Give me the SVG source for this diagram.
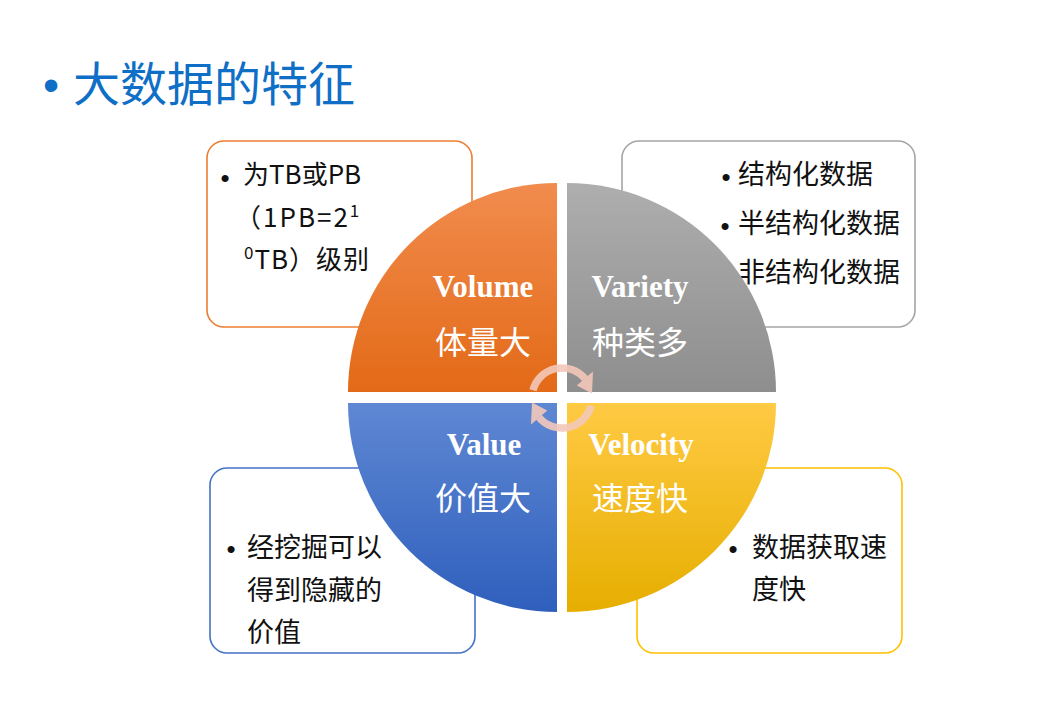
<svg xmlns="http://www.w3.org/2000/svg" width="1046" height="707" viewBox="0 0 1046 707">
<defs>
<linearGradient id="gOrange" x1="0" y1="0" x2="0" y2="1"><stop offset="0" stop-color="#F18C4E"/><stop offset="1" stop-color="#E36A17"/></linearGradient>
<linearGradient id="gGray" x1="0" y1="0" x2="0" y2="1"><stop offset="0" stop-color="#AEAEAE"/><stop offset="1" stop-color="#8E8E8E"/></linearGradient>
<linearGradient id="gBlue" x1="0" y1="0" x2="0" y2="1"><stop offset="0" stop-color="#5F88D3"/><stop offset="1" stop-color="#2F5FBD"/></linearGradient>
<linearGradient id="gYellow" x1="0" y1="0" x2="0" y2="1"><stop offset="0" stop-color="#FFCA44"/><stop offset="1" stop-color="#E6AE00"/></linearGradient>
<style>
.box{fill:#FFFFFF;stroke-width:1.6}
.t{font-family:"Noto Sans CJK SC","Noto Sans",sans-serif;font-size:27px;fill:#111111}
.t26{font-size:26px}
.b{font-family:"Liberation Sans",Arial,sans-serif;font-size:26px;fill:#111111;text-anchor:middle}
.en{font-family:"Liberation Serif","Times New Roman",serif;font-size:31px;font-weight:bold;fill:#FFFFFF;text-anchor:middle}
.cn{font-family:"Noto Sans CJK SC","Noto Sans",sans-serif;font-size:32px;fill:#FFFFFF;text-anchor:middle}
.arc{fill:none;stroke:#F3C8B9;stroke-width:7.5;opacity:0.9}
.head{fill:#F3C8B9;opacity:0.9}
</style>
</defs>
<rect width="1046" height="707" fill="#FFFFFF"/>

<g id="title">
<text x="51" y="101" style="font-family:'Liberation Sans',sans-serif;font-size:46px;fill:#0F6FC6;text-anchor:middle">•</text>
<text x="73" y="101" style="font-family:'Noto Sans CJK SC','Noto Sans',sans-serif;font-size:47px;fill:#0F6FC6">大数据的特征</text>
</g>

<g id="box-volume">
<rect class="box" x="207" y="141" width="265" height="186" rx="17" stroke="#ED7D31"/>
<text class="b" x="225" y="187">•</text>
<text class="t t26" x="243" y="184">为TB或PB</text>
<text class="t t26" x="235" y="227" letter-spacing="2">（1PB=2<tspan dy="-10" font-size="17">1</tspan></text>
<text class="t t26" x="244" y="269" letter-spacing="1"><tspan dy="-10" font-size="17">0</tspan><tspan dy="10">TB）级别</tspan></text>
</g>

<g id="box-variety">
<rect class="box" x="622" y="141" width="293" height="186" rx="17" stroke="#A5A5A5"/>
<text class="b" x="726" y="186">•</text>
<text class="t" x="738" y="184">结构化数据</text>
<text class="b" x="725" y="235">•</text>
<text class="t" x="738" y="233">半结构化数据</text>
<text class="b" x="725" y="284">•</text>
<text class="t" x="738" y="282">非结构化数据</text>
</g>

<g id="box-value">
<rect class="box" x="210" y="468" width="265" height="185" rx="17" stroke="#4472C4"/>
<text class="b" x="231" y="558">•</text>
<text class="t" x="247" y="557">经挖掘可以</text>
<text class="t" x="247" y="600">得到隐藏的</text>
<text class="t" x="247" y="642">价值</text>
</g>

<g id="box-velocity">
<rect class="box" x="637" y="468" width="265" height="185" rx="17" stroke="#FFC000"/>
<text class="b" x="733" y="558">•</text>
<text class="t" x="752" y="557">数据获取速</text>
<text class="t" x="752" y="599">度快</text>
</g>

<g id="quad-volume">
<path d="M557,392 L348,392 A209,209 0 0 1 557,183 Z" fill="url(#gOrange)"/>
<text class="en" x="483" y="297">Volume</text>
<text class="cn" x="483" y="354">体量大</text>
</g>
<g id="quad-variety">
<path d="M567,392 L567,183 A209,209 0 0 1 776,392 Z" fill="url(#gGray)"/>
<text class="en" x="640" y="297">Variety</text>
<text class="cn" x="640" y="354">种类多</text>
</g>
<g id="quad-velocity">
<path d="M567,403 L776,403 A209,209 0 0 1 567,612 Z" fill="url(#gYellow)"/>
<text class="en" x="641" y="455">Velocity</text>
<text class="cn" x="640" y="510">速度快</text>
</g>
<g id="quad-value">
<path d="M557,403 L557,612 A209,209 0 0 1 348,403 Z" fill="url(#gBlue)"/>
<text class="en" x="484" y="455">Value</text>
<text class="cn" x="483" y="510">价值大</text>
</g>

<g id="connectors">
<path class="arc" d="M533.0,390.2 A30,30 0 0 1 585.0,378.7"/>
<polygon class="head" points="593.0,371.5 592.0,393.5 576.8,385.5"/>
<path class="arc" d="M591.0,405.8 A30,30 0 0 1 539.0,417.3"/>
<polygon class="head" points="531.0,424.5 532.0,402.5 547.2,410.5"/>
</g>
</svg>
